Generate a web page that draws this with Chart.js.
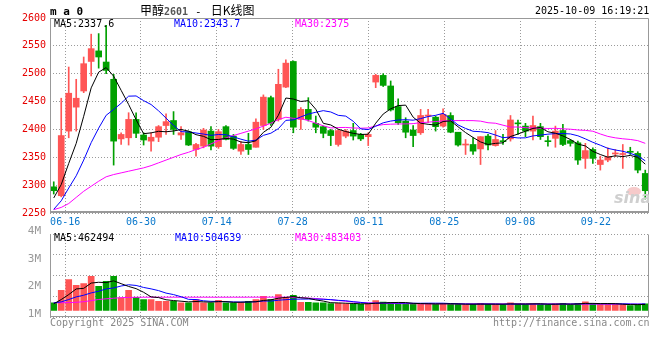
<!DOCTYPE html>
<html><head><meta charset="utf-8">
<script src="https://cdn.jsdelivr.net/npm/chart.js@4.4.1/dist/chart.umd.min.js"></script>
<style>
html,body{margin:0;padding:0;background:#fff;}
#wrap{position:relative;width:660px;height:360px;overflow:hidden;background:#fff;}
canvas{position:absolute;left:0;}
.t{position:absolute;white-space:nowrap;font-family:"DejaVu Sans Mono",monospace;font-size:10px;line-height:12px;}
.cjk{font-family:"Noto Sans CJK SC",sans-serif;}
</style></head><body>
<div id="wrap">
<canvas id="pc" width="660" height="235" style="top:0"></canvas>
<canvas id="vc" width="660" height="100" style="top:225px"></canvas>
<div id="wm" style="position:absolute;left:612px;top:185px;width:37px;height:22px;overflow:hidden;">
  <div style="position:absolute;left:15px;top:2px;width:14px;height:9px;border-radius:50%;background:#f6caca;"></div>
  <div style="position:absolute;left:2px;top:3px;font:italic bold 16px 'DejaVu Sans',sans-serif;color:#cfcfcf;">sina</div>
</div>
<div class="t" style="left:50px;top:5px;font-weight:bold;font-size:11px;line-height:13px;">m a 0</div>
<div class="t cjk" style="left:140px;top:3px;font-size:12px;line-height:14px;">甲醇<span style="font-family:'DejaVu Sans Mono';font-weight:bold;font-size:10px;color:#555;">2601</span><span style="font-family:'DejaVu Sans Mono';font-size:11px;margin:0 9px 0 7px;">-</span>日K线图</div>
<div class="t" id="stamp" style="left:535px;top:5px;"></div>
<div class="t" id="pma5" style="left:54px;top:18px;color:#000;"></div>
<div class="t" id="pma10" style="left:174px;top:18px;color:#0000ff;"></div>
<div class="t" id="pma30" style="left:295px;top:18px;color:#ff00ff;"></div>
<div class="t" id="vma5" style="left:54px;top:232px;color:#000;"></div>
<div class="t" id="vma10" style="left:175px;top:232px;color:#0000ff;"></div>
<div class="t" id="vma30" style="left:295px;top:232px;color:#ff00ff;"></div>
<div class="t" style="left:50px;top:317px;color:#888;">Copyright 2025 SINA.COM</div>
<div class="t" style="left:493px;top:317px;color:#888;">http://finance.sina.com.cn</div>
</div>
<script>
// ---- data ----
const stamp = '2025-10-09 16:19:21';
const dates = ['06-12','06-13','06-16','06-17','06-18','06-19','06-20','06-23','06-24','06-25',
'06-26','06-27','06-30','07-01','07-02','07-03','07-04','07-07','07-08','07-09',
'07-10','07-11','07-14','07-15','07-16','07-17','07-18','07-21','07-22','07-23',
'07-24','07-25','07-28','07-29','07-30','07-31','08-01','08-04','08-05','08-06',
'08-07','08-08','08-11','08-12','08-13','08-14','08-15','08-18','08-19','08-20',
'08-21','08-22','08-25','08-26','08-27','08-28','08-29','09-01','09-02','09-03',
'09-04','09-05','09-08','09-09','09-10','09-11','09-12','09-15','09-16','09-17',
'09-18','09-19','09-22','09-23','09-24','09-25','09-26','09-29','09-30','10-09'];
const tickLabels = ['06-16','06-30','07-14','07-28','08-11','08-25','09-08','09-22'];
const priceTicks = [2250,2600,50];
const volTickLabels = ['4M','3M','2M','1M'];

const open = [2297,2281,2397,2440,2469,2522,2541,2521,2490,2383,
2385,2418,2390,2379,2386,2407,2416,2390,2396,2364,
2370,2397,2369,2405,2388,2361,2373,2368,2407,2457,
2418,2476,2522,2418,2436,2411,2405,2398,2373,2388,
2398,2391,2387,2485,2497,2478,2441,2415,2399,2394,
2424,2422,2406,2425,2395,2372,2373,2365,2388,2371,
2379,2383,2411,2406,2397,2405,2379,2384,2398,2380,
2376,2348,2364,2337,2345,2356,2355,2360,2357,2321];
const high = [2306,2456,2512,2490,2530,2571,2572,2587,2499,2394,
2430,2430,2394,2394,2407,2428,2432,2405,2397,2375,
2402,2405,2400,2407,2391,2378,2393,2419,2462,2460,
2508,2525,2523,2439,2457,2424,2406,2400,2400,2400,
2411,2393,2394,2499,2500,2487,2455,2421,2407,2436,
2436,2424,2437,2430,2395,2382,2385,2387,2391,2398,
2391,2425,2417,2411,2424,2411,2388,2406,2409,2382,
2379,2375,2367,2352,2367,2364,2373,2368,2360,2327];
const low = [2284,2279,2385,2397,2466,2496,2510,2500,2336,2373,
2372,2385,2372,2361,2378,2391,2391,2382,2371,2352,
2367,2363,2366,2381,2364,2355,2355,2368,2400,2407,
2415,2475,2394,2400,2415,2394,2385,2371,2370,2385,
2381,2380,2371,2475,2477,2433,2409,2385,2369,2391,
2412,2397,2404,2394,2370,2355,2355,2337,2363,2370,
2373,2379,2391,2387,2381,2382,2370,2368,2371,2370,
2337,2330,2339,2327,2342,2351,2330,2355,2322,2275];
const close = [2290,2389,2465,2456,2518,2545,2530,2506,2379,2391,
2418,2393,2381,2386,2405,2414,2400,2394,2372,2373,
2399,2370,2396,2382,2366,2373,2364,2413,2458,2411,
2481,2519,2404,2436,2418,2404,2393,2389,2398,2397,
2388,2383,2391,2497,2479,2435,2412,2395,2389,2425,
2425,2405,2427,2395,2372,2373,2361,2387,2372,2382,
2378,2417,2410,2397,2407,2387,2378,2397,2373,2375,
2345,2362,2348,2345,2351,2357,2355,2359,2327,2290];
const ma5 = [2277,2301,2339,2375,2423.6,2474.6,2502.8,2511.0,2495.6,2470.2,
2444.8,2417.4,2392.4,2393.8,2396.6,2395.8,2397.2,2399.8,2397.0,2390.6,
2387.6,2381.6,2382.0,2384.0,2382.6,2377.4,2376.2,2379.6,2394.8,2403.8,
2425.4,2456.4,2454.6,2450.2,2451.6,2436.2,2411.0,2408.0,2400.4,2396.2,
2393.0,2391.0,2391.4,2411.2,2427.6,2437.0,2442.8,2443.6,2422.0,2411.2,
2409.2,2407.8,2414.2,2415.4,2404.8,2394.4,2385.6,2377.6,2373.0,2375.0,
2376.0,2387.2,2391.8,2396.8,2401.8,2403.6,2395.8,2393.2,2388.4,2382.0,
2373.6,2370.4,2360.6,2355.0,2350.2,2352.6,2351.2,2353.4,2349.8,2337.6];
const ma10 = [2256.6,2271.9,2294.8,2316.8,2345.0,2376.3,2402.3,2425.4,2435.8,2446.9,
2459.7,2460.1,2451.7,2444.7,2433.4,2420.3,2407.3,2396.1,2395.4,2393.6,
2391.7,2389.4,2390.9,2390.5,2386.6,2382.5,2378.9,2380.8,2389.4,2393.2,
2401.4,2416.3,2417.1,2422.5,2427.7,2430.8,2433.7,2431.3,2425.3,2423.9,
2414.6,2401.0,2399.7,2405.8,2411.9,2415.0,2416.9,2417.5,2416.6,2419.4,
2423.1,2425.3,2428.9,2418.7,2408.0,2401.8,2396.7,2395.9,2394.2,2389.9,
2385.2,2386.4,2384.7,2384.9,2388.4,2389.8,2391.5,2392.5,2392.6,2391.9,
2388.6,2383.1,2376.9,2371.7,2366.1,2363.1,2360.8,2357.0,2352.4,2343.7];
const ma30 = [2256,2260,2267,2278,2289,2298,2307,2315,2319,2322,
2325,2328,2331,2335,2340,2345,2350,2355,2359,2364,
2368,2374,2380,2385,2389,2393,2397,2401,2406,2411.2,
2417.6,2421.9,2419.9,2419.2,2415.9,2411.2,2406.6,2402.7,2403.4,2403.6,
2402.6,2402.2,2402.6,2406.3,2408.7,2409.4,2409.8,2409.9,2410.4,2412.2,
2413.0,2414.2,2415.2,2415.7,2415.9,2415.9,2415.8,2414.9,2412.0,2411.1,
2407.6,2404.2,2404.4,2403.1,2402.8,2402.2,2401.7,2402.0,2401.1,2400.4,
2399.0,2398.3,2396.8,2391.8,2387.5,2384.9,2383.2,2382.0,2379.9,2375];
const vol = [592000,1562000,2385000,1946000,2077000,2638000,1869000,2254000,2638000,977000,
1562000,1023000,846000,846000,715000,715000,715000,592000,592000,846000,
592000,592000,792000,592000,592000,615000,715000,846000,1100000,846000,
1231000,1023000,1177000,638000,638000,592000,592000,538000,560000,520000,
500000,470000,540000,760000,640000,620000,540000,500000,470000,520000,
560000,480000,520000,500000,470000,460000,480000,560000,470000,470000,
440000,600000,500000,480000,520000,480000,430000,520000,560000,440000,
560000,660000,520000,480000,470000,500000,440000,380000,480000,510000];
const volMa5 = [515000,846000,1231000,1667000,1712000,2122000,2183000,2157000,2295000,2075000,
1860000,1691000,1409000,1051000,998000,829000,767000,717000,666000,692000,
667000,643000,683000,683000,632000,637000,661000,672000,774000,824000,
948000,1009000,1075000,983000,941000,814000,727000,600000,584000,560000,
542000,518000,518000,558000,582000,606000,620000,612000,554000,530000,
518000,506000,510000,516000,506000,486000,486000,494000,488000,488000,
484000,508000,496000,498000,508000,516000,482000,486000,502000,486000,
502000,548000,548000,532000,538000,526000,482000,454000,454000,462494];
const volMa10 = [590000,667000,846000,1051000,1180000,1360000,1487000,1667000,1744000,1894000,
1991000,1937000,1783000,1673000,1537000,1345000,1229000,1063000,859000,845000,
748000,705000,700000,675000,662000,652000,652000,678000,729000,728000,
793000,835000,874000,879000,883000,881000,868000,838000,784000,751000,
678000,623000,559000,571000,571000,574000,569000,565000,556000,556000,
562000,563000,561000,535000,518000,502000,496000,502000,502000,497000,
485000,497000,495000,493000,498000,500000,495000,491000,500000,497000,
509000,515000,517000,517000,512000,514000,515000,501000,493000,504639];
const volMa30 = [590000,598000,610000,630000,680000,760000,850000,900000,950000,990000,
1010000,1020000,1024000,1026000,1026000,1027000,1027000,1027000,1026000,1026000,
1026000,1025000,1025000,1025000,1026000,1026000,1027000,1028000,1030000,1030000,
1031000,1030000,1015000,990000,960000,925000,880000,830000,770000,710000,
660000,620000,590000,565000,550000,540000,532000,527000,522000,519000,
517000,515000,514000,513000,512000,511000,510000,510000,509000,508000,
506000,505000,504000,503000,502000,501000,500000,499000,498000,497000,
496000,495000,494000,493000,491000,489000,487000,486000,485000,483403];

// ---- style ----
const UP = '#ff5555', DOWN = '#00a000', GRID = '#9a9a9a', FRAME = '#999999';
const MONO = 'DejaVu Sans Mono';
const N = dates.length;
const candleColor = close.map((c, i) => c >= open[i] ? UP : DOWN);
const tickIdx = tickLabels.map(l => dates.indexOf(l));
const VOL_MAX = 5923000, VOL_MIN = -538000;

const last = a => a[a.length - 1];
document.getElementById('stamp').textContent = stamp;
document.getElementById('pma5').textContent = 'MA5:' + last(ma5);
document.getElementById('pma10').textContent = 'MA10:' + last(ma10);
document.getElementById('pma30').textContent = 'MA30:' + last(ma30);
document.getElementById('vma5').textContent = 'MA5:' + last(volMa5);
document.getElementById('vma10').textContent = 'MA10:' + last(volMa10);
document.getElementById('vma30').textContent = 'MA30:' + last(volMa30);

const pts = arr => arr.map((v, i) => ({x: i, y: v}));
const line = (arr, color) => ({type: 'line', data: pts(arr), borderColor: color, borderWidth: 1,
  pointRadius: 0, tension: 0, fill: false, order: 0, xAxisID: 'x'});

// vertical dotted date grid (1px dots every 3px), positioned by the 'xg' scale
const dateGrid = {id: 'dateGrid', beforeDatasetsDraw(chart) {
  const s = chart.scales.xg, a = chart.chartArea, ctx = chart.ctx;
  ctx.save();
  ctx.fillStyle = GRID;
  const top = Math.round(a.top), bottom = Math.round(a.bottom);
  for (const t of s.ticks) {
    const x = Math.floor(s.getPixelForValue(t.value));
    for (let y = top; y < bottom; y += 3) ctx.fillRect(x, y, 1, 1);
  }
  ctx.restore();
}};

function framePlugin(topDashed, bottomWidth) {
  return {id: 'frame', afterDraw(chart) {
    const {ctx, chartArea: a} = chart;
    const l = Math.round(a.left) + 0.5, r = Math.round(a.right) - 0.5;
    const t = Math.round(a.top) + 0.5, b = Math.round(a.bottom) - 0.5;
    ctx.save();
    ctx.strokeStyle = FRAME; ctx.lineWidth = 1;
    ctx.beginPath(); ctx.moveTo(l, t); ctx.lineTo(l, b); ctx.moveTo(r, t); ctx.lineTo(r, b); ctx.stroke();
    if (!topDashed) { ctx.beginPath(); ctx.moveTo(l, t); ctx.lineTo(r, t); ctx.stroke(); }
    ctx.lineWidth = bottomWidth;
    ctx.beginPath(); ctx.moveTo(l - 0.5, b - (bottomWidth - 1) / 2); ctx.lineTo(r + 0.5, b - (bottomWidth - 1) / 2); ctx.stroke();
    ctx.restore();
  }};
}

const xCandle = () => ({type: 'linear', min: -0.5, max: N - 0.5, display: false, offset: false, grid: {offset: false}});
function xGrid(showLabels, h) {
  return {type: 'linear', axis: 'x', position: 'bottom', min: 0, max: N - 1, offset: false,
    afterBuildTicks: s => { s.ticks = tickIdx.map(v => ({value: v})); },
    ticks: {display: showLabels, autoSkip: false, maxRotation: 0, minRotation: 0, padding: 3,
      color: '#0a78cc', font: {family: MONO, size: 10},
      callback: (v, i) => tickLabels[i]},
    grid: {display: false, drawTicks: false, offset: false},
    border: {display: false},
    afterFit: s => { s.height = h; }};
}

new Chart(document.getElementById('pc'), {
  type: 'bar',
  data: {datasets: [
    line(ma5, '#000000'), line(ma10, '#0000ff'), line(ma30, '#ff00ff'),
    {type: 'bar', data: open.map((o, i) => ({x: i, y: [o, close[i]]})), backgroundColor: candleColor,
      barThickness: 6, minBarLength: 1, grouped: false, borderWidth: 0, order: 1, xAxisID: 'x'},
    {type: 'bar', data: low.map((l, i) => ({x: i, y: [l, high[i]]})), backgroundColor: candleColor,
      barThickness: 1, grouped: false, borderWidth: 0, order: 2, xAxisID: 'x'}
  ]},
  options: {
    responsive: false, animation: false, devicePixelRatio: 1,
    layout: {padding: {top: 18, right: 11, left: 0, bottom: 0}},
    plugins: {legend: {display: false}, tooltip: {enabled: false}},
    scales: {
      x: xCandle(),
      xg: xGrid(true, 22),
      y: {type: 'linear', position: 'left', min: priceTicks[0], max: priceTicks[1],
        ticks: {stepSize: priceTicks[2], color: '#e60000', font: {family: MONO, size: 10}, padding: 4,
          callback: v => String(v)},
        grid: {color: GRID, drawTicks: false}, border: {display: false, dash: [1, 2]},
        afterFit: s => { s.width = 50; }}
    }
  },
  plugins: [dateGrid, framePlugin(false, 2)]
});

new Chart(document.getElementById('vc'), {
  type: 'bar',
  data: {datasets: [
    Object.assign(line(volMa5, '#000000'), {yAxisID: 'yv'}),
    Object.assign(line(volMa10, '#0000ff'), {yAxisID: 'yv'}),
    Object.assign(line(volMa30, '#ff00ff'), {yAxisID: 'yv'}),
    {type: 'bar', data: pts(vol), backgroundColor: candleColor, barThickness: 6, grouped: false,
      borderWidth: 0, order: 1, xAxisID: 'x', yAxisID: 'yv'}
  ]},
  options: {
    responsive: false, animation: false, devicePixelRatio: 1,
    layout: {padding: {top: 9, right: 11, left: 0, bottom: 0}},
    plugins: {legend: {display: false}, tooltip: {enabled: false}},
    scales: {
      x: xCandle(),
      xg: xGrid(false, 7),
      yl: {type: 'category', labels: volTickLabels, position: 'left', offset: false,
        grid: {display: false}, border: {display: false},
        ticks: {color: '#999999', font: {family: MONO, size: 11}, padding: 1, labelOffset: -3},
        afterFit: s => { s.width = 50; }},
      yv: {type: 'linear', position: 'left', min: VOL_MIN, max: VOL_MAX,
        ticks: {display: false, count: 5}, grid: {color: GRID, drawTicks: false},
        border: {display: false, dash: [1, 2]}, afterFit: s => { s.width = 0; }}
    }
  },
  plugins: [dateGrid, framePlugin(true, 1)]
});
</script>
</body></html>
